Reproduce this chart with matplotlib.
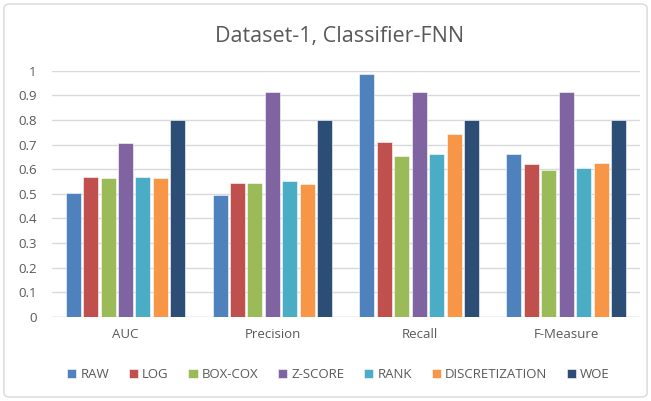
import numpy as np
import matplotlib.pyplot as plt
from matplotlib.patches import FancyBboxPatch

# data
categories = ['AUC', 'Precision', 'Recall', 'F-Measure']
methods = ['RAW', 'LOG', 'BOX-COX', 'Z-SCORE', 'RANK', 'DISCRETIZATION', 'WOE']
raw = [0.502, 0.495, 0.985, 0.66]
log = [0.569, 0.546, 0.71, 0.62]
boxcox = [0.563, 0.546, 0.653, 0.598]
zscore = [0.705, 0.912, 0.912, 0.912]
rank = [0.569, 0.552, 0.66, 0.603]
discretization = [0.563, 0.541, 0.745, 0.625]
woe = [0.80, 0.80, 0.80, 0.80]
series = [raw, log, boxcox, zscore, rank, discretization, woe]
colors = ['#4F81BD', '#C0504D', '#9BBB59', '#8064A2', '#4BACC6', '#F79646', '#2C4D75']

plt.rcParams['font.family'] = ['Open Sans', 'DejaVu Sans']
txt = '#595959'

fig = plt.figure(figsize=(6.51, 4.01), dpi=100)
ax = fig.add_axes([0.0799, 0.2095, 0.9031, 0.6142])

# rounded grey frame around the chart
fig.patches.append(FancyBboxPatch((0.006, 0.01), 0.988, 0.98, boxstyle='round,pad=0,rounding_size=0.01',
                                  transform=fig.transFigure, fill=False, ec='#D9D9D9', lw=1))

x = np.arange(len(categories))
pitch = 0.119
width = 0.102
for i, (name, vals) in enumerate(zip(methods, series)):
    ax.bar(x + (i - 3) * pitch, vals, width, color=colors[i], label=name,
           edgecolor='white', linewidth=0.4, zorder=3)

ax.set_xlim(-0.5, 3.5)
ax.set_ylim(0, 1)
ax.set_yticks(np.arange(0, 1.01, 0.1))
ax.set_yticklabels(['0', '0.1', '0.2', '0.3', '0.4', '0.5', '0.6', '0.7', '0.8', '0.9', '1'])
ax.set_xticks(x)
ax.set_xticklabels(categories)
ax.grid(axis='y', color='#D9D9D9', lw=1, zorder=0)
for s in ax.spines.values():
    s.set_visible(False)
ax.axhline(0, color='#D9D9D9', lw=1, zorder=1)
ax.tick_params(length=0, colors=txt, labelsize=9.5)
ax.tick_params(axis='x', pad=8)
ax.tick_params(axis='y', pad=11)

fig.text(0.522, 0.908, 'Dataset-1, Classifier-FNN', ha='center', va='center', fontsize=15.5, color=txt)

leg = fig.legend(loc='center', bbox_to_anchor=(0.52, 0.065), ncol=7, frameon=False,
                 fontsize=9.5, handlelength=0.7, handleheight=0.7, handletextpad=0.3, columnspacing=1.5)
for t in leg.get_texts():
    t.set_color(txt)

fig.savefig('out.png', dpi=100)
